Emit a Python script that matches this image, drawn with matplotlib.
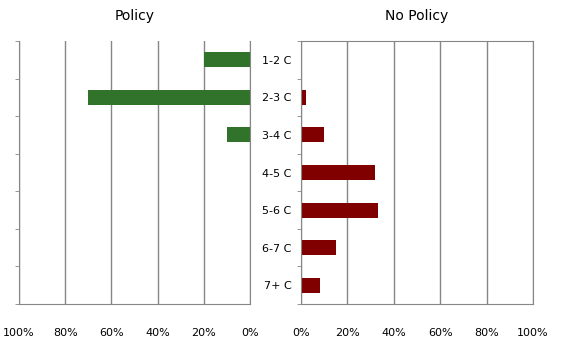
import numpy as np
import matplotlib
matplotlib.use('Agg')
import matplotlib.pyplot as plt
from matplotlib.ticker import FixedLocator

categories = ['1-2 C', '2-3 C', '3-4 C', '4-5 C', '5-6 C', '6-7 C', '7+ C']
policy = [0.20, 0.70, 0.10, 0.0, 0.0, 0.0, 0.0]
no_policy = [0.0, 0.02, 0.10, 0.32, 0.33, 0.15, 0.08]
xticks = [0, 0.2, 0.4, 0.6, 0.8, 1.0]
xtick_labels = ['0%', '20%', '40%', '60%', '80%', '100%']

grid_col = '#868686'
W, H = 563, 353
fig = plt.figure(figsize=(W / 100, H / 100), dpi=100)

ax1 = fig.add_axes([19 / W, 1 - 304 / H, 231 / W, 263 / H])
ax2 = fig.add_axes([301 / W, 1 - 304 / H, 232 / W, 263 / H])

y = np.arange(len(categories))

ax1.barh(y, policy, height=0.4, color='#31732A')
ax2.barh(y, no_policy, height=0.4, color='#800000')

for ax in (ax1, ax2):
    ax.set_ylim(6.5, -0.5)
    ax.set_xticks(xticks)
    ax.set_xticklabels(xtick_labels, fontsize=8)
    ax.tick_params(axis='x', length=0, pad=17)
    ax.grid(axis='x', color=grid_col, linewidth=1)
    ax.set_axisbelow(True)
    # small ticks between categories
    ax.yaxis.set_minor_locator(FixedLocator(np.arange(-0.5, 7, 1)))
    ax.tick_params(axis='y', which='minor', length=3, color=grid_col, direction='out')
    for s in ax.spines.values():
        s.set_color(grid_col)

ax1.set_xlim(1, 0)
ax1.set_yticks(y)
ax1.set_yticklabels([])
ax1.tick_params(axis='y', which='major', length=0)
ax1.spines['top'].set_visible(False)
ax1.set_title('Policy', fontsize=10, pad=15)

ax2.set_xlim(0, 1)
ax2.set_yticks(y)
ax2.set_yticklabels(categories, fontsize=8)
ax2.tick_params(axis='y', which='major', length=0, pad=7)
ax2.set_title('No Policy', fontsize=10, pad=15)

plt.savefig('out.png', dpi=100)
